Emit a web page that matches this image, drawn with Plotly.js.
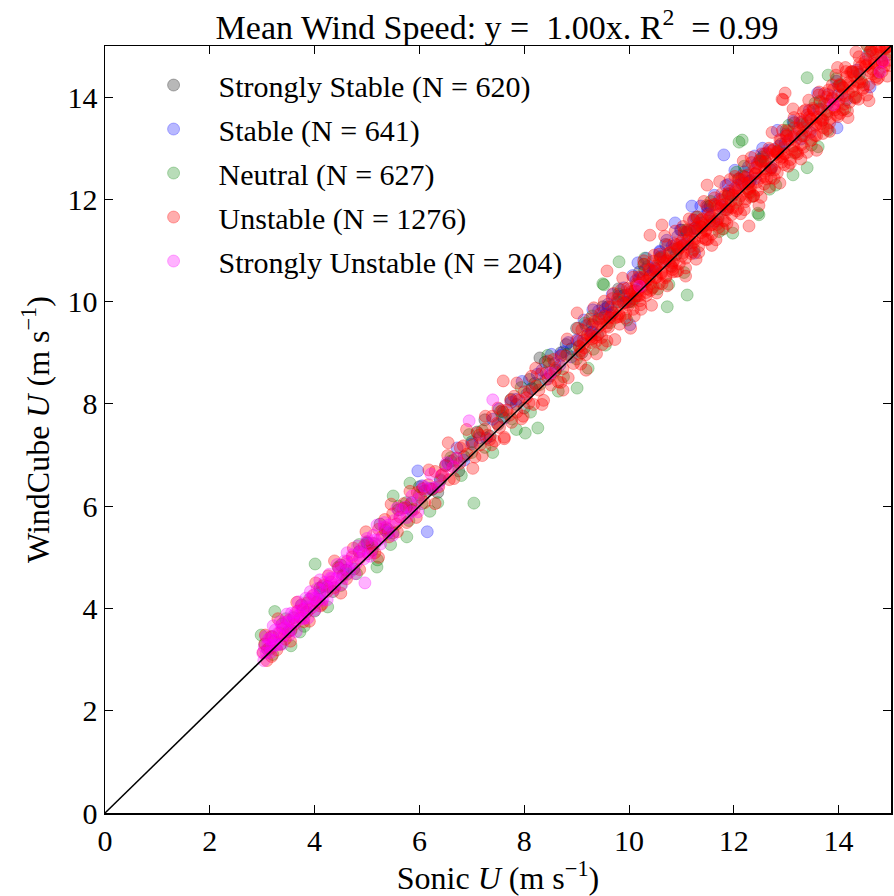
<!DOCTYPE html>
<html>
<head>
<meta charset="utf-8">
<script src="https://cdn.plot.ly/plotly-3.0.1.min.js"></script>
<style>html,body{margin:0;padding:0;background:#fff;}#chart{width:894px;height:896px;}</style>
</head>
<body>
<div id="chart"></div>
<script>
// ---- data ----
const seriesNames = ["Strongly Stable (N = 620)", "Stable (N = 641)", "Neutral (N = 627)", "Unstable (N = 1276)", "Strongly Unstable (N = 204)"];
const xTicks = [0, 2, 4, 6, 8, 10, 12, 14];
const fitX = [0, 15];
const fitY = [0, 15];

const stronglyStable = [
[3.10,3.20],[3.35,3.30],[3.60,3.82],[3.85,3.93],[4.10,4.40],[4.35,4.33],[4.60,4.75],[4.85,5.11],[5.10,5.14],[5.35,5.53],
[5.60,5.93],[5.85,5.92],[6.10,6.30],[6.35,6.27],[6.60,6.88],[6.85,6.97],[7.10,7.45],[7.35,7.37],[7.60,7.84],[7.85,7.99],
[8.10,8.48],[8.30,8.90],[8.50,8.55],[8.70,9.00],[8.90,9.08],[9.10,9.00],[9.30,9.55],[9.50,9.90],[9.70,9.78],[9.90,10.12],
[10.10,10.05],[10.30,10.62],[10.50,10.65],[10.70,11.12],[10.90,10.92],[11.10,11.36],[11.30,11.42],[11.50,11.86],[11.70,11.62],[11.90,12.10],
[12.10,12.40],[12.30,12.35],[12.50,12.78],[12.70,12.58],[12.90,13.08],[13.15,13.50],[13.40,13.50],[13.70,13.55],[14.00,14.22],[14.40,14.45],
[3.20,3.45],[3.50,3.55],[3.75,4.07],[4.00,3.95],[4.25,4.43],[4.50,4.85],[4.75,4.77],[5.00,5.28],[5.25,5.65],[5.50,5.48],
[5.75,5.97],[6.00,6.38],[6.25,6.33],[6.50,6.80],[6.75,6.69],[7.00,7.26],[7.25,7.69],[7.50,7.60],[7.75,8.09],[8.00,7.92],
[8.20,8.40],[8.40,8.82],[8.60,8.66],[8.80,9.16],[9.00,9.48],[9.20,9.34],[9.40,9.35],[9.60,9.90],[9.80,10.25],[10.00,10.00],
[10.20,10.58],[10.40,10.50],[10.60,10.88],[10.80,10.70],[11.00,11.40],[11.25,11.43],[11.55,11.87],[11.85,11.80],[12.20,12.45],[12.60,12.75]
];

const stable = [
[4.10,4.30],[4.55,4.67],[5.02,5.27],[5.40,5.48],[5.85,6.07],[6.20,6.35],[6.55,6.83],[6.85,6.90],[7.15,7.34],[7.40,7.70],
[7.62,7.72],[7.85,8.09],[8.05,8.19],[8.25,8.58],[8.42,8.48],[8.58,8.79],[8.75,9.02],[8.90,8.92],[9.05,9.23],[9.18,9.53],
[9.30,9.41],[9.42,9.67],[9.55,9.86],[9.66,9.74],[9.78,10.00],[9.90,10.27],[10.02,10.15],[10.13,10.41],[10.25,10.29],[10.36,10.69],
[10.48,10.67],[10.59,10.99],[10.70,10.80],[10.82,11.08],[10.93,11.28],[11.05,11.12],[11.16,11.39],[11.27,11.65],[11.39,11.54],[11.50,11.80],
[11.62,11.57],[11.73,12.00],[11.85,12.27],[11.96,12.08],[12.08,12.28],[12.20,12.54],[12.32,12.37],[12.45,12.70],[12.58,12.89],[12.72,12.62],
[12.86,13.04],[13.00,13.28],[13.15,13.25],[13.30,13.52],[13.46,13.31],[13.62,13.77],[13.80,14.05],[13.98,14.03],[14.15,13.95],[14.35,14.53],
[14.56,14.82],[5.97,6.69],[6.15,5.50],[9.31,9.84],[11.81,12.87],[11.20,11.87],[10.88,11.54],[10.17,10.76],[10.02,9.55],[11.25,10.95],
[13.97,13.40],[14.60,14.20],[8.70,8.95],[9.60,9.95],[12.40,12.85],
[6.05,6.40],[6.40,6.50],[6.72,7.14],[7.00,7.22],[7.28,7.33],[7.52,7.90],[7.75,8.03],[7.96,8.44],[8.15,8.30],[8.34,8.66],
[8.52,8.97],[8.68,8.76],[8.84,9.20],[9.00,9.25],[9.14,9.64],[9.28,9.40],[9.42,9.82],[9.55,9.75],[9.68,10.14],[9.81,10.11],
[9.94,9.99],[10.07,10.51],[10.20,10.46],[10.33,10.85],[10.46,10.60],[10.59,10.97],[10.72,11.20],[10.85,11.03],[10.98,11.40],[11.11,11.13],
[11.24,11.59],[11.37,11.87],[11.50,11.72],[11.63,12.08],[11.76,11.86],[11.89,12.29],[12.02,12.57],[12.15,12.31],[12.28,12.64],[12.41,12.41],
[12.55,13.00],[12.69,12.97],[12.83,13.35],[12.98,13.10],[13.13,13.53],[13.28,13.18],[13.44,13.74],[13.60,14.08],[13.78,13.86],[13.96,14.31]
];

const neutral = [
[3.05,3.30],[3.20,3.10],[3.38,3.70],[3.55,3.57],[3.72,3.54],[3.90,4.18],[4.08,4.18],[4.25,4.03],[4.45,4.81],[4.62,4.67],
[4.80,4.68],[5.00,5.30],[5.20,4.95],[5.40,5.55],[5.60,6.00],[5.80,5.72],[6.00,6.22],[6.20,5.90],[6.40,6.52],[6.60,6.95],
[6.80,6.60],[7.00,7.05],[7.20,7.48],[7.40,7.05],[7.58,7.76],[7.76,7.71],[7.94,8.32],[8.12,7.84],[8.30,8.38],[8.48,8.78],
[8.65,8.25],[8.82,8.97],[9.00,8.88],[9.16,9.58],[9.32,9.07],[9.48,9.68],[9.64,9.59],[9.80,10.15],[9.96,9.64],[10.12,10.22],
[10.28,10.73],[10.44,10.26],[10.60,10.85],[10.76,10.34],[10.92,11.04],[11.08,11.40],[11.24,11.02],[11.40,11.45],[11.56,11.96],[11.72,11.37],
[11.88,12.06],[12.04,11.94],[12.20,12.65],[12.36,12.06],[12.52,12.74],[12.68,12.20],[12.84,12.94],[13.00,13.35],[13.16,12.91],[13.32,13.47],
[13.48,13.06],[13.64,13.92],[13.80,13.72],[13.96,14.36],[14.12,13.77],[14.28,14.48],[14.44,14.29],[14.60,14.90],[14.76,14.48],[14.92,14.82],
[3.24,3.94],[4.01,4.87],[5.19,4.81],[3.55,3.27],[2.98,3.48],[7.04,6.06],[5.82,6.45],[5.50,6.20],[5.76,5.40],[8.26,7.53],
[8.02,7.43],[9.01,8.31],[9.52,10.33],[9.22,8.70],[12.10,13.12],[11.11,10.13],[10.73,9.90],[9.81,10.78],[11.98,11.34],[12.48,11.70],
[13.40,14.38],[13.80,14.43],[13.61,13.03],[13.40,12.62],[13.13,12.48],[12.46,11.73],[9.50,10.35],[12.16,13.16],
[3.15,3.20],[3.45,3.80],[3.80,3.65],[4.15,4.43],[4.50,4.45],[4.85,5.25],[5.15,5.27],[5.45,5.25],[5.75,6.07],[6.05,6.05],
[6.35,6.07],[6.65,6.90],[6.95,7.40],[7.25,7.15],[7.55,7.85],[7.85,7.50],[8.15,8.30],[8.45,8.95],[8.75,8.53],[9.05,9.13],
[9.30,9.72],[9.55,9.15],[9.80,10.00],[10.05,10.00],[10.30,10.85],[10.55,10.25],[10.80,10.92],[11.05,10.57],[11.30,11.65],[11.55,11.57],
[11.80,11.42],[12.05,12.53],[12.30,12.15],[12.55,12.83],[12.80,12.28],[13.05,13.45],[13.30,13.25],[13.55,13.88],[13.80,13.35],[14.05,14.23],
[14.30,14.00],[14.55,15.00],[14.80,14.80]
];

const unstable = [
[3.02,3.14],[3.05,3.31],[3.09,2.98],[3.13,3.22],[3.17,3.45],[3.22,3.36],[3.28,3.19],[3.33,3.52],[3.39,3.61],[3.44,3.40],
[3.51,3.77],[3.55,3.58],[3.62,3.69],[3.68,3.95],[3.73,3.82],[3.79,3.74],[3.86,4.11],[3.91,3.99],[3.98,4.26],[4.04,4.12],
[4.11,4.05],[4.17,4.46],[4.24,4.33],[4.31,4.52],[4.38,4.41],[4.46,4.79],[4.53,4.64],[4.61,4.58],[4.72,5.01],[4.86,4.98],
[4.95,5.23],[5.02,5.07],[5.09,5.28],[5.15,5.09],[5.22,5.55],[5.29,5.41],[5.36,5.58],[5.42,5.40],[5.49,5.85],[5.56,5.65],
[5.63,5.79],[5.69,5.96],[5.76,5.68],[5.83,6.04],[5.90,5.94],[5.96,6.27],[6.03,6.17],[6.10,6.07],[6.17,6.42],[6.23,6.33],
[6.30,6.68],[6.37,6.38],[6.44,6.62],[6.50,6.79],[6.57,6.52],[6.64,6.77],[6.71,6.94],[6.77,6.84],[6.84,7.18],[6.91,7.02],
[7.02,7.20],[7.06,6.96],[7.11,7.43],[7.16,7.20],[7.20,6.99],[7.25,7.51],[7.30,7.39],[7.34,7.30],[7.39,7.76],[7.44,7.28],
[7.48,7.62],[7.53,7.54],[7.58,7.87],[7.62,7.35],[7.67,7.88],[7.72,7.78],[7.76,7.64],[7.81,8.15],[7.86,7.84],[7.90,8.07],
[7.95,7.71],[8.00,8.24],[8.04,8.12],[8.09,8.02],[8.14,8.54],[8.18,7.99],[8.23,8.35],[8.28,8.27],[8.32,8.59],[8.37,8.07],
[8.42,8.61],[8.46,8.49],[8.51,8.37],[8.56,8.87],[8.60,8.70],[8.65,8.43],[8.70,8.93],[8.74,8.69],[8.79,8.94],[8.84,8.51],
[9.02,9.24],[9.05,8.97],[9.10,9.45],[9.13,9.18],[9.17,8.96],[9.22,9.36],[9.25,9.66],[9.29,9.27],[9.34,9.61],[9.37,9.22],
[9.41,9.50],[9.46,9.77],[9.49,9.16],[9.53,9.71],[9.58,9.59],[9.61,9.50],[9.66,9.90],[9.70,10.16],[9.73,9.68],[9.78,9.90],
[9.82,9.56],[9.85,10.23],[9.90,9.97],[9.94,9.77],[9.97,10.26],[10.02,10.01],[10.05,10.20],[10.10,9.72],[10.14,10.35],[10.17,10.20],
[10.22,9.94],[10.26,10.45],[10.29,10.73],[10.34,10.25],[10.38,10.44],[10.41,10.22],[10.46,10.79],[10.50,10.60],[10.53,10.17],[10.58,10.83],
[10.62,10.58],[10.65,10.78],[10.70,10.47],[10.74,11.11],[10.77,10.79],[10.82,10.68],[10.86,11.14],[10.90,10.59],[10.94,11.02],[10.98,11.15],
[11.01,10.89],[11.05,11.36],[11.08,10.66],[11.12,11.20],[11.15,11.62],[11.19,10.94],[11.23,11.38],[11.26,11.23],[11.30,11.66],[11.33,10.96],
[11.37,11.59],[11.41,11.25],[11.44,11.49],[11.48,11.88],[11.51,11.22],[11.55,11.66],[11.59,11.51],[11.62,11.90],[11.66,11.21],[11.69,11.87],
[11.73,11.72],[11.77,12.11],[11.80,11.59],[11.84,11.91],[11.87,11.53],[11.91,12.16],[11.95,11.97],[11.98,11.84],[12.02,12.45],[12.05,11.78],
[12.09,12.22],[12.13,12.07],[12.16,12.46],[12.20,11.80],[12.23,12.43],[12.27,12.31],[12.31,12.13],[12.34,12.72],[12.38,12.07],[12.41,12.50],
[12.45,12.34],[12.49,12.75],[12.52,12.04],[12.56,12.72],[12.59,12.60],[12.63,12.40],[12.67,13.00],[12.70,12.63],[12.74,12.95],[12.77,12.41],
[12.81,12.93],[12.85,12.83],[12.88,13.17],[12.92,12.73],[12.96,13.02],
[13.00,13.24],[13.04,12.65],[13.07,13.17],[13.11,12.96],[13.15,13.60],[13.18,13.16],[13.22,12.89],[13.26,13.57],[13.29,13.07],[13.33,13.40],
[13.37,13.75],[13.40,12.92],[13.44,13.61],[13.48,13.39],[13.51,13.78],[13.55,13.25],[13.59,13.61],[13.62,14.04],[13.66,13.48],[13.70,13.29],
[13.73,13.87],[13.77,13.72],[13.81,14.14],[13.84,13.58],[13.88,13.97],[13.92,13.80],[13.95,14.43],[13.99,13.62],[14.03,14.23],[14.06,14.05],
[14.10,13.86],[14.14,14.50],[14.17,13.73],[14.21,14.26],[14.25,14.50],[14.28,14.12],[14.32,13.98],[14.36,14.49],[14.39,14.79],[14.43,14.36],
[14.47,14.18],[14.50,14.69],[14.54,14.04],[14.58,14.66],[14.61,14.91],[14.65,14.45],[14.69,14.66],[14.72,14.94],[14.76,14.38],[14.80,14.91],
[14.83,14.70],[14.87,14.60],[14.91,14.97],[14.94,14.72],[14.98,14.88],
[9.08,9.04],[9.27,9.31],[9.45,9.40],[9.63,9.70],[9.81,9.76],[9.99,10.05],[10.16,10.11],[10.33,10.40],[10.51,10.47],[10.68,10.75],
[10.86,10.81],[11.03,11.10],[11.21,11.15],[11.38,11.46],[11.56,11.50],[11.73,11.82],[11.91,11.85],[12.08,12.16],[12.26,12.20],[12.43,12.52],
[12.61,12.55],[12.78,12.87],[12.96,12.90],[13.13,13.22],[13.31,13.24],[13.48,13.57],[13.66,13.58],[13.83,13.92],[14.01,13.93],[14.18,14.28],
[14.36,14.29],[14.53,14.62],[14.71,14.63],[14.88,14.96],[11.47,11.40],[12.33,12.25],[12.89,12.80],[13.57,13.49],[14.12,14.03],[14.64,14.55],
[7.60,8.45],[9.58,10.60],[9.01,9.78],[8.74,8.27],[6.55,7.24],[10.40,11.30],[10.63,11.50],[12.29,11.48],[11.49,12.28],[12.98,14.08],
[12.92,13.96],[12.94,13.95],
[3.06,3.48],[3.18,3.06],[3.30,3.80],[3.42,3.47],[3.54,3.36],[3.66,4.12],[3.78,3.98],[3.90,3.75],[4.02,4.50],[4.14,4.08],
[4.26,4.64],[4.38,4.93],[4.50,4.30],[4.62,4.92],[4.74,5.18],[4.86,4.76],[4.98,5.50],[5.10,5.22],[5.22,5.00],[5.34,5.74],
[5.46,6.04],[5.58,5.50],[5.70,6.05],[5.82,6.29],[5.94,5.78],[6.06,6.34],[6.18,6.71],[6.30,6.05],[6.42,6.60],[6.54,6.99],
[6.66,6.54],[6.78,7.14],[6.90,7.50],[7.02,6.74],[7.14,7.39],[7.26,7.76],[7.38,7.20],[7.50,7.92],[7.62,7.32],[7.74,8.07],
[7.86,8.41],[7.98,7.76],[8.10,8.25],[8.22,8.70],[8.34,7.99],[8.46,8.84],[8.58,8.63],[8.70,8.42],[8.82,9.27],[8.94,8.79],
[9.03,9.48],[9.08,8.78],[9.13,9.25],[9.18,8.66],[9.23,9.56],[9.28,9.20],[9.33,9.88],[9.38,8.98],[9.43,9.65],[9.48,9.30],
[9.53,10.01],[9.58,9.23],[9.63,9.68],[9.68,10.06],[9.73,9.26],[9.78,10.05],[9.83,9.71],[9.88,10.46],[9.93,9.68],[9.98,10.13],
[10.03,9.48],[10.08,10.48],[10.13,10.11],[10.18,10.48],[10.23,9.85],[10.28,10.80],[10.33,10.18],[10.38,10.63],[10.43,9.93],[10.48,10.91],
[10.53,10.48],[10.58,10.93],[10.63,10.35],[10.68,11.28],[10.73,10.31],[10.78,10.96],[10.83,10.63],[10.88,11.38],[10.93,10.60],[10.98,11.06],
[11.03,11.47],[11.08,10.50],[11.13,11.41],[11.18,11.08],[11.23,11.60],[11.28,10.83],[11.33,11.53],[11.38,11.35],[11.43,11.96],[11.48,11.21],
[11.53,11.63],[11.58,11.10],[11.63,12.03],[11.68,11.51],[11.73,12.35],[11.78,11.42],[11.83,12.07],[11.88,11.82],[11.93,12.39],[11.98,11.45],
[12.03,12.17],[12.08,12.40],[12.13,11.72],[12.18,12.75],[12.23,12.01],[12.28,12.31],[12.33,12.82],[12.38,12.07],[12.43,12.62],[12.48,11.88],
[12.53,12.89],[12.58,12.45],[12.63,12.91],[12.68,12.24],[12.73,13.31],[12.78,12.58],[12.83,12.90],[12.88,12.32],[12.93,13.35],[12.98,12.89],
[13.03,13.34],[13.08,12.71],[13.13,13.77],[13.18,12.92],[13.23,13.39],[13.28,12.79],[13.33,13.72],[13.38,13.34],[13.43,13.94],[13.48,13.16],
[13.53,13.74],[13.58,12.96],[13.63,14.10],[13.68,13.54],[13.73,14.07],[13.78,13.38],[13.83,13.33],[13.88,14.24],[13.93,13.75],[13.98,14.58],
[14.03,13.68],[14.08,14.19],[14.13,14.58],[14.18,13.60],[14.23,14.49],[14.28,14.21],[14.33,14.88],[14.38,13.96],[14.43,14.60],[14.48,14.24],
[14.53,15.03],[14.58,13.93],[14.63,14.93],[14.68,14.70],[14.73,14.35],[14.78,15.26],[14.83,14.67],[14.88,15.28],[14.93,14.41],[14.98,15.20],
[9.05,9.12],[9.15,9.10],[9.26,9.35],[9.36,9.30],[9.47,9.55],[9.57,9.52],[9.68,9.79],[9.78,9.70],[9.89,9.98],[9.99,9.93],
[10.10,10.21],[10.20,10.12],[10.31,10.40],[10.41,10.35],[10.52,10.63],[10.62,10.55],[10.73,10.82],[10.83,10.76],[10.94,11.05],[11.04,10.96],
[11.15,11.24],[11.25,11.17],[11.36,11.47],[11.46,11.38],[11.57,11.66],[11.67,11.58],[11.78,11.89],[11.88,11.79],[11.99,12.08],[12.09,12.00],
[12.20,12.31],[12.30,12.21],[12.41,12.50],[12.51,12.42],[12.62,12.73],[12.72,12.62],[12.83,12.92],[12.93,12.83],[13.04,13.15],[13.14,13.04],
[13.25,13.34],[13.35,13.25],[13.46,13.57],[13.56,13.45],[13.67,13.76],[13.77,13.66],[13.88,13.99],[13.98,13.87],[14.09,14.18],[14.19,14.08],
[14.30,14.41],[14.40,14.29],[14.51,14.60],[14.61,14.50],[14.72,14.83],[14.82,14.71],[14.93,14.99],
[10.02,10.25],[10.08,9.85],[10.15,10.32],[10.21,10.02],[10.27,10.48],[10.33,10.12],[10.40,10.62],[10.46,10.28],[10.52,10.70],[10.58,10.36],
[10.65,10.88],[10.71,10.50],[10.77,10.95],[10.83,10.58],[10.90,11.12],[10.96,10.74],[11.02,11.20],[11.08,10.85],[11.15,11.38],[11.21,10.98],
[11.27,11.45],[11.33,11.08],[11.40,11.62],[11.46,11.22],[11.52,11.70],[11.58,11.32],[11.65,11.90],[11.71,11.45],[11.77,11.98],[11.83,11.58],
[11.90,12.12],[11.96,11.70],[12.02,12.22],[12.08,11.82],[12.15,12.38],[12.21,11.95],[12.27,12.48],[12.33,12.05],[12.40,12.62],[12.46,12.18],
[12.52,12.75],[12.58,12.30],[12.65,12.88],[12.71,12.42],[12.77,12.98],[12.83,12.52],[12.90,13.15],[12.96,12.68],[13.02,13.25],[13.08,12.78],
[13.15,13.40],[13.21,12.92],[13.27,13.50],[13.33,13.02],[13.40,13.65],[13.46,13.15],[13.52,13.75],[13.58,13.25],[13.65,13.90],[13.71,13.40],
[13.77,14.00],[13.83,13.50],[13.90,14.15],[13.96,13.65],[14.02,14.25],[14.08,13.75],[14.15,14.40],[14.21,13.90],[14.27,14.50],[14.33,14.00],
[14.40,14.65],[14.46,14.15],[14.52,14.75],[14.58,14.25],[14.65,14.88],[14.71,14.40],[14.77,14.98],[14.83,14.50],[14.90,14.95],[14.96,14.62]
];

const stronglyUnstable = [
[3.01,3.13],[3.04,3.25],[3.08,3.13],[3.11,3.29],[3.15,3.41],[3.19,3.28],[3.22,3.37],[3.26,3.28],[3.30,3.52],[3.33,3.46],
[3.37,3.67],[3.41,3.48],[3.45,3.62],[3.48,3.72],[3.52,3.56],[3.56,3.75],[3.60,3.71],[3.64,3.92],[3.68,3.76],[3.72,3.88],
[3.76,3.99],[3.80,3.81],[3.84,4.04],[3.88,4.02],[3.93,4.20],[3.97,4.03],[4.02,4.20],[4.06,4.16],[4.11,4.36],[4.16,4.19],
[4.21,4.42],[4.26,4.41],[4.31,4.60],[4.37,4.46],[4.42,4.59],[4.48,4.70],[4.54,4.59],[4.60,4.86],[4.66,4.78],[4.72,4.91],
[4.79,4.87],[4.86,5.10],[4.93,5.07],[5.00,5.31],[5.08,5.10],[5.16,5.34],[5.24,5.35],[5.33,5.60],[5.42,5.49],[5.52,5.72],
[5.62,5.75],[5.73,5.98],[5.85,5.89],[5.98,6.14],[6.12,6.34],[6.27,6.36],[6.45,6.63],[6.65,6.77],[6.95,7.67],[7.40,8.08],
[4.96,4.50],[8.50,8.60],[10.20,10.30],[13.90,13.85],[14.79,14.49],[14.85,14.70],
[3.03,2.98],[3.07,3.45],[3.12,3.40],[3.16,3.14],[3.21,3.66],[3.25,3.58],[3.29,3.29],[3.34,3.74],[3.38,3.30],[3.43,3.73],
[3.47,3.89],[3.51,3.47],[3.56,3.91],[3.60,3.86],[3.65,3.55],[3.69,4.13],[3.74,4.05],[3.78,3.80],[3.83,4.20],[3.87,3.81],
[3.92,4.33],[3.96,4.25],[4.01,3.98],[4.05,4.39],[4.10,4.56],[4.14,4.15],[4.19,4.51],[4.24,4.17],[4.28,4.67],[4.33,4.58],
[4.38,4.38],[4.43,4.86],[4.47,4.77],[4.52,4.47],[4.57,4.93],[4.62,5.09],[4.67,4.71],[4.72,5.05],[4.77,4.68],[4.82,5.22],
[4.88,5.16],[4.94,4.97],[5.00,5.37],[5.06,5.02],[5.12,5.43],[5.19,5.63],[5.26,5.26],[5.33,5.68],[5.41,5.63],[5.49,5.43],
[5.57,5.96],[5.66,5.93],[5.76,5.78],[5.86,6.20],[5.97,5.89],[6.09,6.39],[6.22,6.63],[6.36,6.41],[6.52,6.85],[6.70,6.94]
];

// ---- chart ----
const groups = [stronglyStable, stable, neutral, unstable, stronglyUnstable];
const colors = ["rgba(0,0,0,0.28)", "rgba(0,0,255,0.28)", "rgba(0,128,0,0.28)", "rgba(255,0,0,0.32)", "rgba(255,0,255,0.3)"];

const traces = groups.map((pts, i) => ({
  type: "scatter",
  mode: "markers",
  name: seriesNames[i],
  legendgroup: "g" + i,
  x: pts.map(p => p[0]),
  y: pts.map(p => p[1]),
  marker: {size: 12, color: colors[i], line: {color: colors[i], width: 1}},
  hoverinfo: "skip"
}));
traces.push({
  type: "scatter", mode: "lines", x: fitX, y: fitY, showlegend: false,
  line: {color: "black", width: 1.5}, hoverinfo: "skip"
});

const font = "Liberation Serif, Times New Roman, serif";
const axisCommon = {
  range: [0, 15], tickvals: xTicks, ticks: "inside", ticklen: 8, tickwidth: 1,
  tickcolor: "black", showline: true, linecolor: "black", linewidth: 1.5, mirror: "ticks",
  showgrid: false, zeroline: false, tickfont: {family: font, size: 30, color: "black"},
  fixedrange: true
};

const layout = {
  width: 894, height: 896,
  margin: {l: 105, r: 3, t: 46, b: 83},
  paper_bgcolor: "white", plot_bgcolor: "white",
  font: {family: font, color: "black"},
  title: {text: "Mean Wind Speed: y =\u00a0 1.00x. R<sup>2</sup>\u00a0 = 0.99", font: {family: font, size: 34, color: "black"},
          x: 0.556, xanchor: "center", y: 0.97, yanchor: "middle"},
  xaxis: Object.assign({}, axisCommon, {title: {text: "Sonic <i>U</i> (m s<sup>\u22121</sup>)", font: {family: font, size: 32}, standoff: 6}}),
  yaxis: Object.assign({}, axisCommon, {title: {text: "WindCube <i>U</i> (m s<sup>\u22121</sup>)", font: {family: font, size: 32}, standoff: 8}}),
  showlegend: true,
  legend: {x: 0.03, y: 0.983, xanchor: "left", yanchor: "top", bgcolor: "rgba(0,0,0,0)", borderwidth: 0,
           font: {family: font, size: 30, color: "black"}, itemwidth: 80, tracegroupgap: 2, traceorder: "grouped"}
};

Plotly.newPlot("chart", traces, layout, {displayModeBar: false, staticPlot: true});
</script>
</body>
</html>
